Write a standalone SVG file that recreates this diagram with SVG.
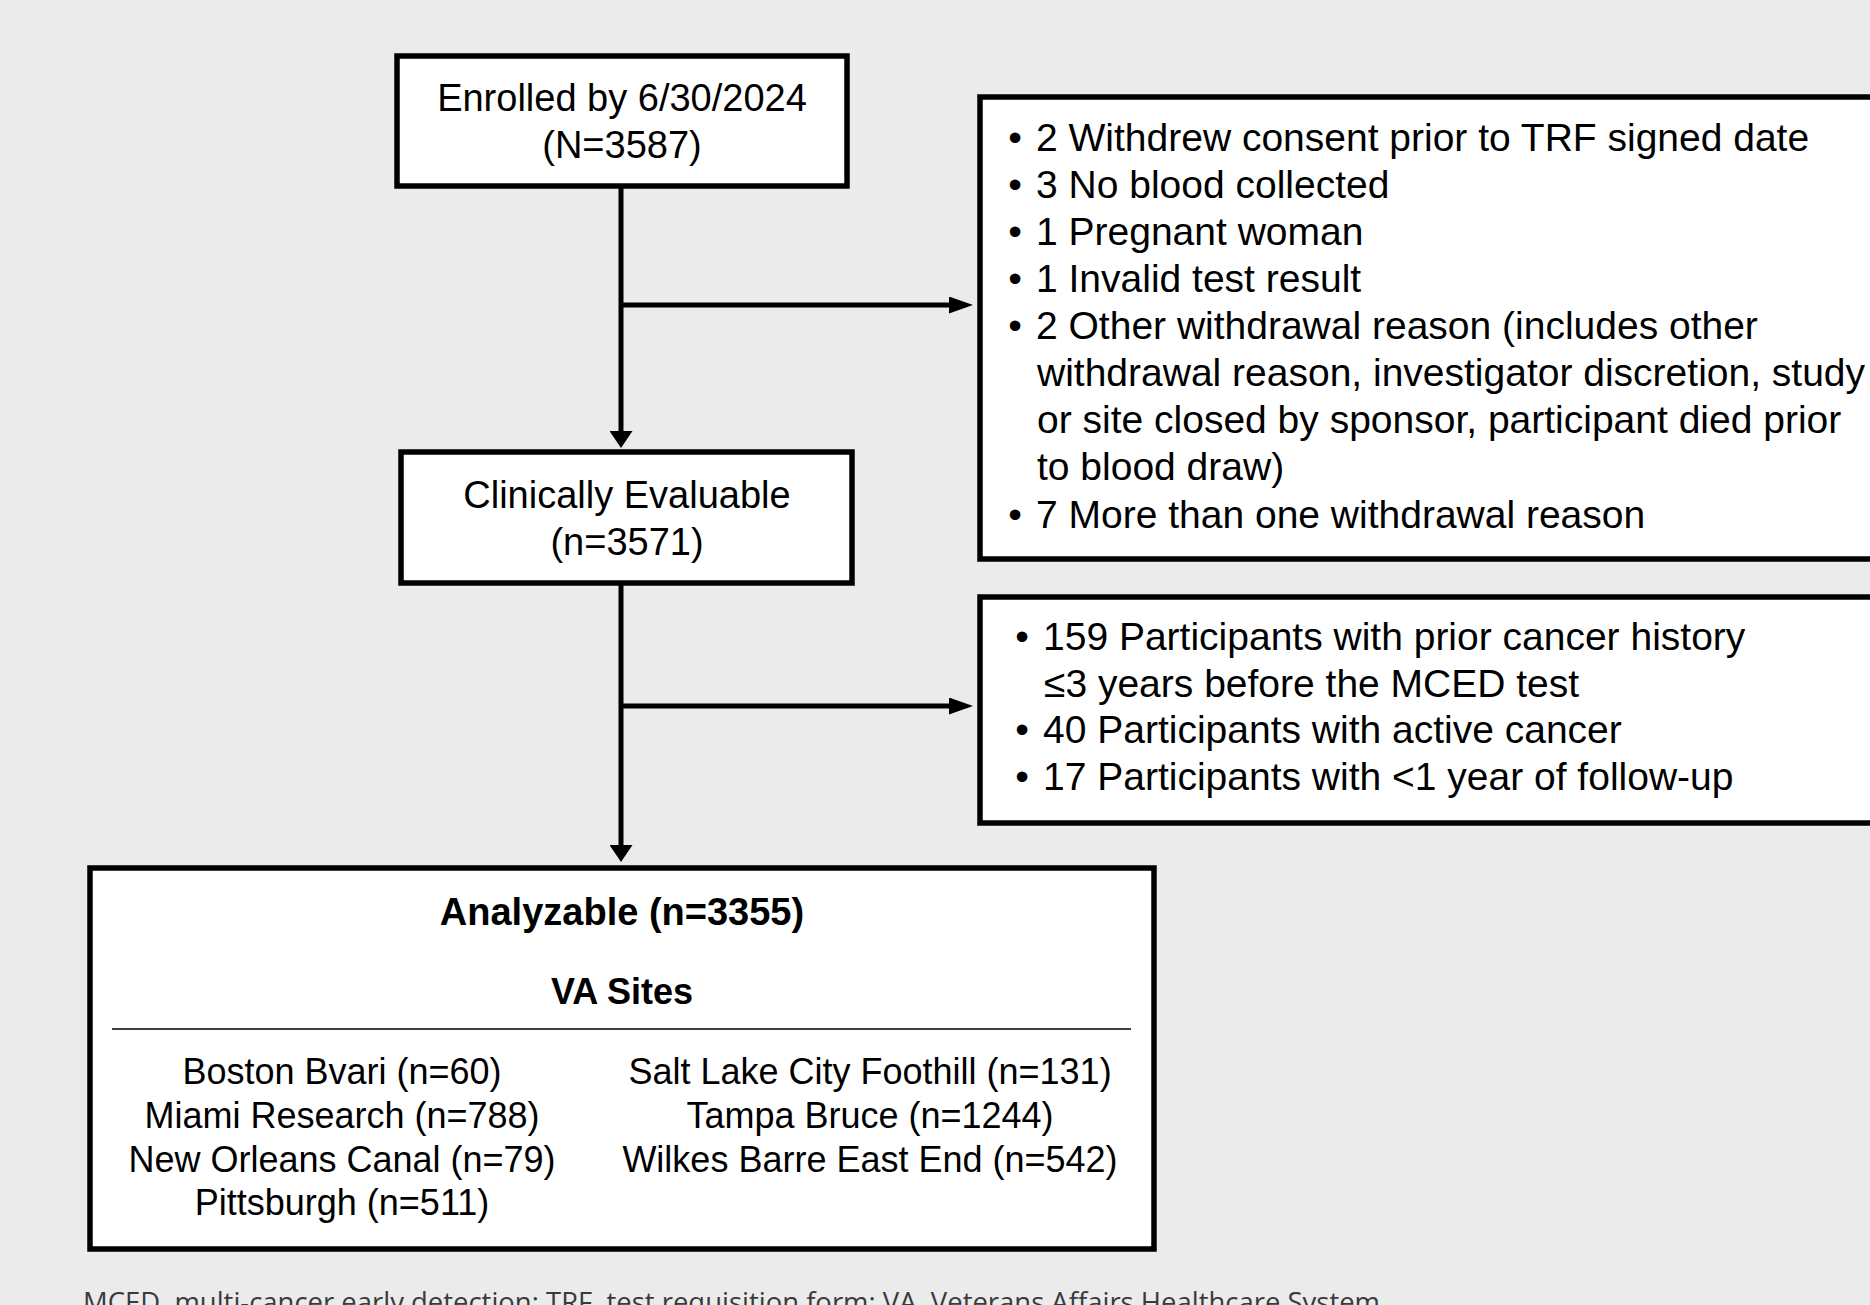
<svg xmlns="http://www.w3.org/2000/svg" width="1870" height="1305" viewBox="0 0 1870 1305">
<defs>
<style>
.box{fill:#ffffff;stroke:#000000;stroke-width:5.5}
.t{font-family:"Liberation Sans",Arial,sans-serif;fill:#000000}
.c{text-anchor:middle}
.f38{font-size:38px}
.f39{font-size:39px}
.f36{font-size:36px}
.b{font-weight:bold}
.conn{fill:none;stroke:#000000;stroke-width:5}
.foot{font-family:"Open Sans","Liberation Sans",sans-serif;font-size:28px;fill:#3a3a3a}
</style>
<marker id="arrH" markerUnits="userSpaceOnUse" markerWidth="24" markerHeight="17" refX="12" refY="8.5" orient="auto">
<path d="M0,0 L24,8.5 L0,17 Z" fill="#000000"/>
</marker>
<marker id="arrV" markerUnits="userSpaceOnUse" markerWidth="17" markerHeight="23" refX="7" refY="11.5" orient="auto">
<path d="M0,0 L17,11.5 L0,23 Z" fill="#000000"/>
</marker>
</defs>
<rect x="0" y="0" width="1870" height="1305" fill="#ebebeb"/>

<g id="connectors">
<path class="conn" d="M621,186 V438" marker-end="url(#arrV)"/>
<path class="conn" d="M621,305 H961" marker-end="url(#arrH)"/>
<path class="conn" d="M621,583 V852" marker-end="url(#arrV)"/>
<path class="conn" d="M621,706 H961" marker-end="url(#arrH)"/>
</g>

<g id="enrolled">
<rect class="box" x="397" y="56" width="450" height="130"/>
<text class="t c f38" x="622" y="111">Enrolled by 6/30/2024</text>
<text class="t c f38" x="622" y="158">(N=3587)</text>
</g>

<g id="excluded1">
<rect class="box" x="980" y="97" width="910" height="462"/>
<g class="t f39">
<text x="1015" y="151" text-anchor="middle">•</text><text x="1036" y="151">2 Withdrew consent prior to TRF signed date</text>
<text x="1015" y="198" text-anchor="middle">•</text><text x="1036" y="198">3 No blood collected</text>
<text x="1015" y="245" text-anchor="middle">•</text><text x="1036" y="245">1 Pregnant woman</text>
<text x="1015" y="292" text-anchor="middle">•</text><text x="1036" y="292">1 Invalid test result</text>
<text x="1015" y="339" text-anchor="middle">•</text><text x="1036" y="339">2 Other withdrawal reason (includes other</text>
<text x="1037" y="386">withdrawal reason, investigator discretion, study</text>
<text x="1037" y="433">or site closed by sponsor, participant died prior</text>
<text x="1037" y="480">to blood draw)</text>
<text x="1015" y="528" text-anchor="middle">•</text><text x="1036" y="528">7 More than one withdrawal reason</text>
</g>
</g>

<g id="clinically">
<rect class="box" x="401" y="452" width="451" height="131"/>
<text class="t c f38" x="627" y="508">Clinically Evaluable</text>
<text class="t c f38" x="627" y="555">(n=3571)</text>
</g>

<g id="excluded2">
<rect class="box" x="980" y="597" width="910" height="226"/>
<g class="t f39">
<text x="1022" y="650" text-anchor="middle">•</text><text x="1043" y="650">159 Participants with prior cancer history</text>
<text x="1044" y="697">≤3 years before the MCED test</text>
<text x="1022" y="743" text-anchor="middle">•</text><text x="1043" y="743">40 Participants with active cancer</text>
<text x="1022" y="790" text-anchor="middle">•</text><text x="1043" y="790">17 Participants with &lt;1 year of follow-up</text>
</g>
</g>

<g id="analyzable">
<rect class="box" x="90" y="868" width="1064" height="381"/>
<text class="t c f38 b" x="622" y="925">Analyzable (n=3355)</text>
<text class="t c f36 b" x="622" y="1004">VA Sites</text>
<line x1="112" y1="1029" x2="1131" y2="1029" stroke="#000000" stroke-width="1.5"/>
<g class="t c f36">
<text x="342" y="1084">Boston Bvari (n=60)</text>
<text x="342" y="1128">Miami Research (n=788)</text>
<text x="342" y="1172">New Orleans Canal (n=79)</text>
<text x="342" y="1215">Pittsburgh (n=511)</text>
<text x="870" y="1084">Salt Lake City Foothill (n=131)</text>
<text x="870" y="1128">Tampa Bruce (n=1244)</text>
<text x="870" y="1172">Wilkes Barre East End (n=542)</text>
</g>
</g>

<text class="foot" x="83" y="1312" textLength="1297" lengthAdjust="spacingAndGlyphs">MCED, multi-cancer early detection; TRF, test requisition form; VA, Veterans Affairs Healthcare System</text>
</svg>
